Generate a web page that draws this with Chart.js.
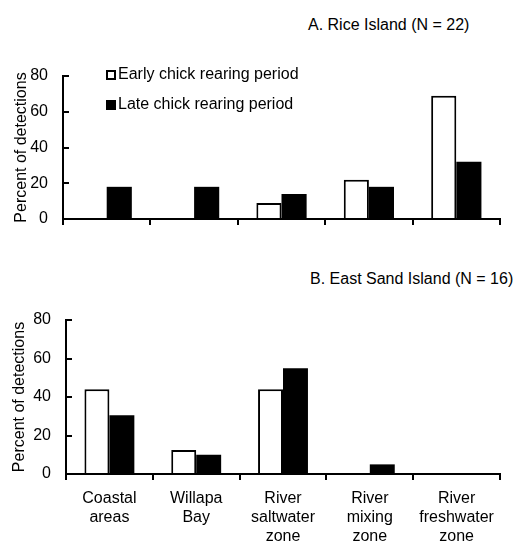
<!DOCTYPE html>
<html>
<head>
<meta charset="utf-8">
<script src="https://cdn.jsdelivr.net/npm/chart.js@4"></script>
<style>
  body { margin: 0; background: #fff; }
  #wrap { position: relative; width: 518px; height: 546px; overflow: hidden; }
  canvas { position: absolute; left: 0; }
  .panelTitle {
    position: absolute;
    font: 16px Arial, "Liberation Sans", sans-serif;
    line-height: 16px;
    color: #000;
    white-space: nowrap;
  }
</style>
</head>
<body>
<div id="wrap">
  <div class="panelTitle" id="titleA" style="left:308px; top:17px;">A. Rice Island (N = 22)</div>
  <canvas id="riceChart" width="518" height="250" style="top:0"></canvas>
  <div class="panelTitle" id="titleB" style="left:310px; top:271px;">B. East Sand Island (N = 16)</div>
  <canvas id="sandChart" width="518" height="296" style="top:250px"></canvas>
</div>
<script>
// ===== data =====
const categories = [
  ["Coastal", "areas"],
  ["Willapa", "Bay"],
  ["River", "saltwater", "zone"],
  ["River", "mixing", "zone"],
  ["River", "freshwater", "zone"]
];
const seriesNames = ["Early chick rearing period", "Late chick rearing period"];
const riceEarly = [0, 0, 9, 22, 69];
const riceLate = [18, 18, 14, 18, 32];
const sandEarly = [44, 12.5, 44, 0, 0];
const sandLate = [30.5, 10, 55, 5, 0];
const yMax = 80;
const yStep = 20;

const FONT = 'Arial, "Liberation Sans", sans-serif';

// legend drawn inside the plot area (top-left)
const innerLegend = {
  id: "innerLegend",
  afterDraw(chart, args, opts) {
    if (!opts.display) return;
    const { ctx, chartArea } = chart;
    ctx.save();
    ctx.font = "16px " + FONT;
    ctx.textBaseline = "middle";
    chart.data.datasets.forEach((ds, i) => {
      const x = chartArea.left + opts.offsetX;
      const y = chartArea.top + opts.offsetY + i * opts.rowGap;
      ctx.fillStyle = ds.backgroundColor;
      ctx.fillRect(x, y - 5, 10, 10);
      ctx.lineWidth = 2;
      ctx.strokeStyle = "#000";
      ctx.strokeRect(x + 1, y - 4, 8, 8);
      ctx.fillStyle = "#000";
      ctx.fillText(ds.label, x + 12, y);
    });
    ctx.restore();
  }
};

function makeDatasets(early, late) {
  return [
    {
      label: seriesNames[0],
      data: early,
      backgroundColor: "#fff",
      borderColor: "#000",
      borderWidth: c => (c.raw ? 2 : 0),
      barPercentage: 1,
      categoryPercentage: 0.575
    },
    {
      label: seriesNames[1],
      data: late,
      backgroundColor: "#000",
      borderColor: "#000",
      borderWidth: 0,
      barPercentage: 1,
      categoryPercentage: 0.575
    }
  ];
}

// y tick padding (21) also sets a minimum bottom padding of ~31px,
// so the top canvas keeps its x axis box at least that tall
function makeOptions(o) {
  return {
    responsive: false,
    animation: false,
    layout: { padding: { top: o.top, right: 18, left: 0, bottom: 0 } },
    plugins: {
      legend: { display: false },
      tooltip: { enabled: false },
      innerLegend: { display: o.legend, offsetX: 43, offsetY: -1, rowGap: 30 }
    },
    scales: {
      x: {
        afterFit: s => { s.height = o.xHeight; },
        grid: { drawOnChartArea: false, tickLength: 6, color: "#000", lineWidth: 2 },
        border: { display: true, color: "#000", width: 2 },
        ticks: {
          display: o.labels,
          color: "#000",
          font: { family: FONT, size: 16, lineHeight: 1.2 },
          padding: 9,
          maxRotation: 0,
          autoSkip: false
        }
      },
      y: {
        min: 0,
        max: yMax,
        afterFit: s => { s.width = o.yWidth; },
        grid: { drawOnChartArea: false, tickLength: -6, color: "#000", lineWidth: 2 },
        border: { display: true, color: "#000", width: 2 },
        ticks: {
          stepSize: yStep,
          color: "#000",
          font: { family: FONT, size: 16 },
          padding: 21
        },
        title: {
          display: true,
          text: "Percent of detections",
          color: "#000",
          font: { family: FONT, size: 16 },
          padding: { top: o.titlePad, bottom: 0 }
        }
      }
    }
  };
}

new Chart(document.getElementById("riceChart"), {
  type: "bar",
  data: { labels: categories, datasets: makeDatasets(riceEarly, riceLate) },
  options: makeOptions({ top: 76, xHeight: 31, yWidth: 63, labels: false, legend: true, titlePad: 12 }),
  plugins: [innerLegend]
});

new Chart(document.getElementById("sandChart"), {
  type: "bar",
  data: { labels: categories, datasets: makeDatasets(sandEarly, sandLate) },
  options: makeOptions({ top: 70, xHeight: 72, yWidth: 66, labels: true, legend: false, titlePad: 10 }),
  plugins: [innerLegend]
});
</script>
</body>
</html>
